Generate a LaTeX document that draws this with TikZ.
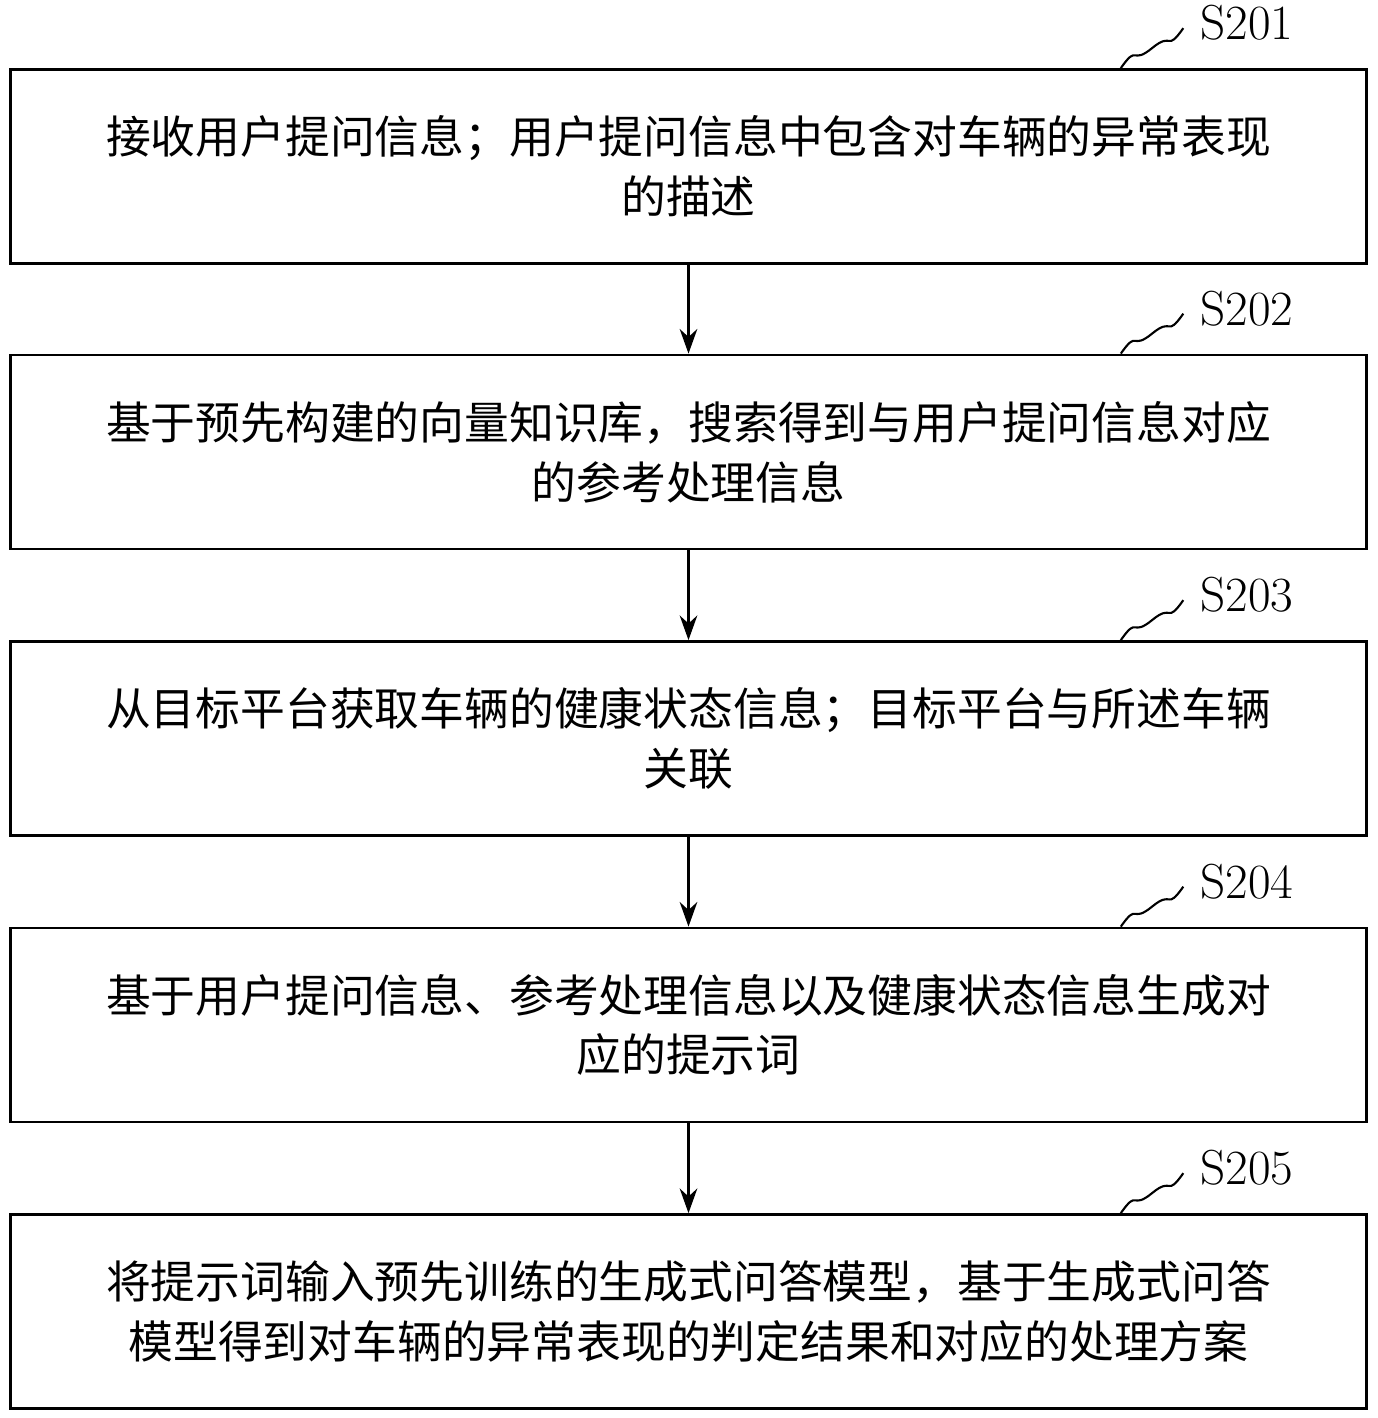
\documentclass[tikz,border=0pt]{standalone}
\usepackage{fontspec}
\newfontfamily\cjk{Noto Sans CJK SC}
\usetikzlibrary{positioning,arrows.meta,calc}
\tikzset{flow/.style={>={Stealth[length=14pt,width=10pt]},line width=1.6pt},
    stepbox/.style={draw,line width=1.6pt,minimum width=27.14cm,minimum height=3.88cm,
        text width=26.6cm,align=center,font=\cjk\fontsize{25.5}{34}\selectfont},
    steplabel/.style={font=\fontsize{28}{32}\selectfont,anchor=west}}
\begin{document}
\begin{tikzpicture}[flow, x=0.02cm, y=-0.02cm]
    \useasboundingbox (0,0) rectangle (1378,1418);
    \node[stepbox](s1) at (688.5,166.5){接收用户提问信息；用户提问信息中包含对车辆的异常表现\\的描述};
    \node[stepbox](s2) at (688.5,452){基于预先构建的向量知识库，搜索得到与用户提问信息对应\\的参考处理信息};
    \node[stepbox](s3) at (688.5,738.5){从目标平台获取车辆的健康状态信息；目标平台与所述车辆\\关联};
    \node[stepbox](s4) at (688.5,1025){基于用户提问信息、参考处理信息以及健康状态信息生成对\\应的提示词};
    \node[stepbox](s5) at (688.5,1311.5){将提示词输入预先训练的生成式问答模型，基于生成式问答\\模型得到对车辆的异常表现的判定结果和对应的处理方案};

    \foreach \a/\b in {s1/s2,s2/s3,s3/s4,s4/s5}
        \draw[->] (\a.south) -- (\b.north);

    % step labels
    \foreach \s/\n in {s1/S201,s2/S202,s3/S203,s4/S204,s5/S205}{
        \coordinate (\s-a) at ([xshift=-4.95cm]\s.north east);
        \coordinate (\s-b) at ([xshift=-3.7cm,yshift=0.8cm]\s.north east);
        \draw[line width=1.2pt] (\s-a) .. controls ($(\s-a)+(0.35cm,0.5cm)$) and ($(\s-a)+(0.2cm,0.05cm)$) .. ($(\s-a)!0.5!(\s-b)$)
            .. controls ($(\s-b)+(-0.2cm,-0.05cm)$) and ($(\s-b)+(-0.35cm,-0.5cm)$) .. (\s-b);
        \node[steplabel] at ([xshift=0.2cm,yshift=0.1cm]\s-b) {\n};
    }
\end{tikzpicture}
\end{document}
